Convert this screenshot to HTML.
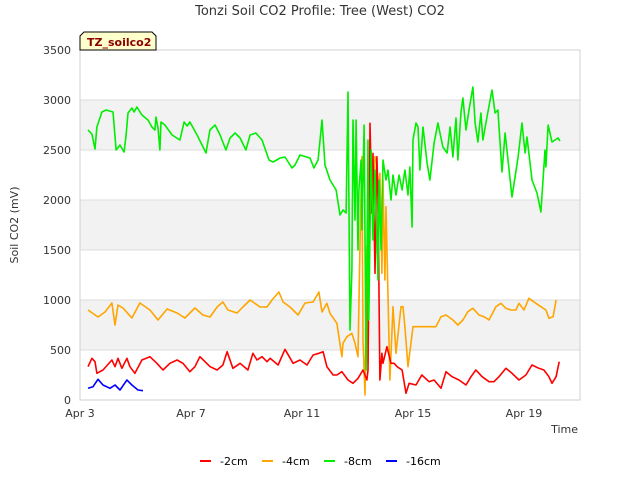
<!DOCTYPE html>
<html><head><meta charset="utf-8"><style>
body{margin:0;background:#fff;}
svg{display:block;font-family:"DejaVu Sans","Liberation Sans",sans-serif;}
</style></head><body>
<svg id="chart" width="640" height="480" xmlns="http://www.w3.org/2000/svg">
<rect x="0" y="0" width="640" height="480" fill="#fff"/>
<text x="320" y="15" text-anchor="middle" font-size="13" fill="#333">Tonzi Soil CO2 Profile: Tree (West) CO2</text>
<g id="bands"></g>
<g id="yaxis"></g>
<g id="xaxis"></g>
<text transform="translate(18,225) rotate(-90)" text-anchor="middle" font-size="11" fill="#333">Soil CO2 (mV)</text>
<text x="578" y="433" text-anchor="end" font-size="11" fill="#333">Time</text>
<g id="series"></g>
<g>
<path d="M80,50 L80,36 L84,32 L152,32 L156,36 L156,50 Z" fill="#ffffcc" stroke="#000" stroke-width="1"/>
<text x="87" y="46" font-size="11" font-weight="bold" fill="#8b0000">TZ_soilco2</text>
</g>
<g id="legend"></g>
</svg>
<script>
const yTicks=[0,500,1000,1500,2000,2500,3000,3500];
const xTickDays=[0,4,8,12,16];
const xTickLabels=["Apr 3","Apr 7","Apr 11","Apr 15","Apr 19"];
const seriesNames=["-2cm","-4cm","-8cm","-16cm"];
const seriesColors=["#ff0000","#ffa500","#00ee00","#0000ff"];

const redT=[.29,.43,.54,.61,.83,1.15,1.15,1.26,1.37,1.51,1.69,1.80,1.98,2.23,2.52,2.77,2.99,3.24,3.50,3.71,3.96,4.14,4.32,4.69,4.94,5.15,5.30,5.51,5.77,6.05,6.23,6.38,6.56,6.74,6.85,7.14,7.39,7.68,7.93,8.18,8.40,8.61,8.76,8.90,9.12,9.26,9.44,9.66,9.84,10.02,10.20,10.34,10.38,10.45,10.52,10.56,10.63,10.70,10.74,10.81,10.88,10.92,11.06,11.21,11.32,11.43,11.61,11.75,11.86,12.11,12.32,12.58,12.76,13.01,13.19,13.41,13.66,13.91,14.09,14.27,14.49,14.74,14.92,15.10,15.35,15.57,15.82,16.07,16.29,16.54,16.72,16.90,17.01,17.16,17.27];
const redV=[333,417,383,267,300,400,400,333,417,317,417,333,267,400,433,367,300,367,400,367,283,333,433,333,300,350,483,317,367,300,467,400,433,383,417,350,507,367,400,350,450,467,483,333,250,250,283,200,167,217,300,200,300,2767,1867,2467,1267,2433,2033,200,467,367,533,367,367,333,300,67,167,150,250,183,200,117,283,233,200,150,233,300,233,183,183,233,317,267,200,250,350,317,300,233,167,233,383];

const orangeT=[.29,.65,.90,1.15,1.26,1.37,1.55,1.87,2.16,2.52,2.81,3.14,3.50,3.78,4.14,4.43,4.69,4.94,5.15,5.33,5.66,5.87,6.13,6.49,6.74,6.92,7.17,7.32,7.57,7.86,8.11,8.40,8.61,8.72,8.76,8.90,9.01,9.26,9.44,9.48,9.62,9.80,9.91,10.02,10.09,10.16,10.20,10.27,10.34,10.38,10.45,10.52,10.56,10.63,10.70,10.74,10.81,10.88,10.92,10.99,11.03,11.10,11.17,11.28,11.39,11.57,11.64,11.71,11.82,12.00,12.29,12.58,12.83,13.01,13.19,13.44,13.62,13.80,13.98,14.16,14.38,14.56,14.74,14.99,15.17,15.35,15.53,15.71,15.82,16.00,16.18,16.43,16.61,16.79,16.90,17.05,17.16];
const orangeV=[900,830,880,970,750,950,920,820,970,900,800,910,870,820,920,850,830,930,980,900,870,930,1000,930,930,1000,1080,980,930,850,970,980,1080,880,900,967,867,767,433,567,633,667,567,433,1567,2433,600,50,1533,367,2200,2433,1800,2433,2367,2067,2267,1267,2200,1200,1933,1033,200,933,467,933,933,733,333,733,733,733,733,833,850,800,750,800,883,917,850,833,800,933,967,917,900,900,967,900,1017,967,933,900,817,833,1000,1040];

const greenT=[.29,.43,.54,.61,.79,.94,1.19,1.30,1.44,1.59,1.66,1.73,1.87,1.95,2.05,2.23,2.45,2.59,2.70,2.74,2.81,2.88,2.92,3.06,3.32,3.60,3.75,3.86,3.96,4.22,4.54,4.68,4.87,5.05,5.26,5.41,5.59,5.77,5.98,6.13,6.34,6.56,6.81,6.96,7.21,7.39,7.64,7.75,7.93,8.29,8.43,8.58,8.72,8.83,9.01,9.23,9.37,9.48,9.59,9.66,9.73,9.80,9.84,9.91,9.95,10.02,10.05,10.13,10.16,10.24,10.31,10.38,10.41,10.49,10.56,10.63,10.74,10.78,10.85,10.92,11.03,11.10,11.21,11.28,11.39,11.50,11.61,11.71,11.82,11.89,11.97,12.00,12.11,12.18,12.25,12.36,12.51,12.61,12.76,12.90,13.08,13.23,13.34,13.44,13.55,13.62,13.73,13.80,13.91,14.02,14.16,14.24,14.34,14.45,14.52,14.67,14.85,14.96,15.06,15.21,15.32,15.57,15.79,15.93,16.04,16.11,16.29,16.47,16.61,16.76,16.79,16.87,17.01,17.23,17.30];
const greenV=[2700,2660,2510,2730,2880,2900,2880,2500,2550,2480,2650,2870,2920,2880,2930,2850,2800,2730,2700,2830,2720,2500,2780,2750,2650,2600,2780,2740,2780,2650,2470,2700,2750,2650,2500,2620,2670,2620,2500,2650,2670,2600,2400,2380,2420,2430,2320,2350,2450,2420,2320,2400,2800,2350,2200,2100,1850,1900,1870,3080,700,1300,2800,1800,2800,1500,2100,2400,1700,2750,300,2600,800,2500,1600,2300,1200,2200,1500,2400,2200,2300,2000,2250,2050,2250,2100,2300,2050,2330,1730,2600,2770,2730,2300,2730,2370,2200,2570,2770,2530,2470,2730,2430,2820,2400,2880,3020,2700,2900,3130,2770,2580,2870,2600,2830,3100,2870,2900,2280,2670,2030,2430,2770,2470,2630,2200,2070,1880,2500,2330,2750,2580,2620,2590];

const blueT=[.29,.47,.65,.83,1.08,1.26,1.44,1.69,1.87,2.09,2.27];
const blueV=[117,133,207,150,117,150,100,200,150,100,93];

const X0=80,X1=580,Y0=50,Y1=400,DAYSPAN=18.02,YMAX=3500;
function xs(d){return X0+d*(X1-X0)/DAYSPAN;}
function ys(v){return Y1-v*(Y1-Y0)/YMAX;}
const NS="http://www.w3.org/2000/svg";
function mk(tag,attrs,parent){const e=document.createElementNS(NS,tag);for(const k in attrs)e.setAttribute(k,attrs[k]);parent.appendChild(e);return e;}

const bands=document.getElementById('bands');
for(let i=0;i<yTicks.length-1;i++){
  const r=mk('rect',{x:X0,y:ys(yTicks[i+1]),width:X1-X0,height:ys(yTicks[i])-ys(yTicks[i+1]),fill:(i%2===1)?'#f2f2f2':'#ffffff'},bands);
  
  
}
const yax=document.getElementById('yaxis');
yTicks.forEach(v=>{
  const l=mk('line',{x1:X0,x2:X1,y1:ys(v),y2:ys(v),stroke:'#dcdcdc','stroke-width':1},yax);
  
  
  const t=mk('text',{x:X0-9,y:ys(v)+4,'text-anchor':'end','font-size':11,fill:'#333'},yax);
  t.textContent=v;
  
  
});
const frame=mk('rect',{x:X0,y:Y0,width:X1-X0,height:Y1-Y0,fill:'none',stroke:'#d0d0d0','stroke-width':1},yax);


const xax=document.getElementById('xaxis');
xTickDays.forEach((d,i)=>{
  const t=mk('text',{x:xs(d),y:417,'text-anchor':'middle','font-size':11,fill:'#333'},xax);
  t.textContent=xTickLabels[i];
  
  
});
const sg=document.getElementById('series');
const all=[[redT,redV],[orangeT,orangeV],[greenT,greenV],[blueT,blueV]];
const drawOrder=[1,0,2,3];
drawOrder.forEach(i=>{
  const [T,V]=all[i];
  const d=T.map((t,j)=>(j?'L':'M')+xs(t).toFixed(1)+','+ys(V[j]).toFixed(1)).join(' ');
  const p=mk('path',{d:d,fill:'none',stroke:seriesColors[i],'stroke-width':1.6,'stroke-linejoin':'round'},sg);
  
  
});
const lg=document.getElementById('legend');
seriesNames.forEach((n,i)=>{
  const x=200+i*62;
  const l=mk('line',{x1:x,x2:x+11,y1:461,y2:461,stroke:seriesColors[i],'stroke-width':2},lg);
  
  
  const t=mk('text',{x:x+20,y:465,'font-size':11,fill:'#000'},lg);
  t.textContent=n;
  
  
});
</script>
</body></html>
